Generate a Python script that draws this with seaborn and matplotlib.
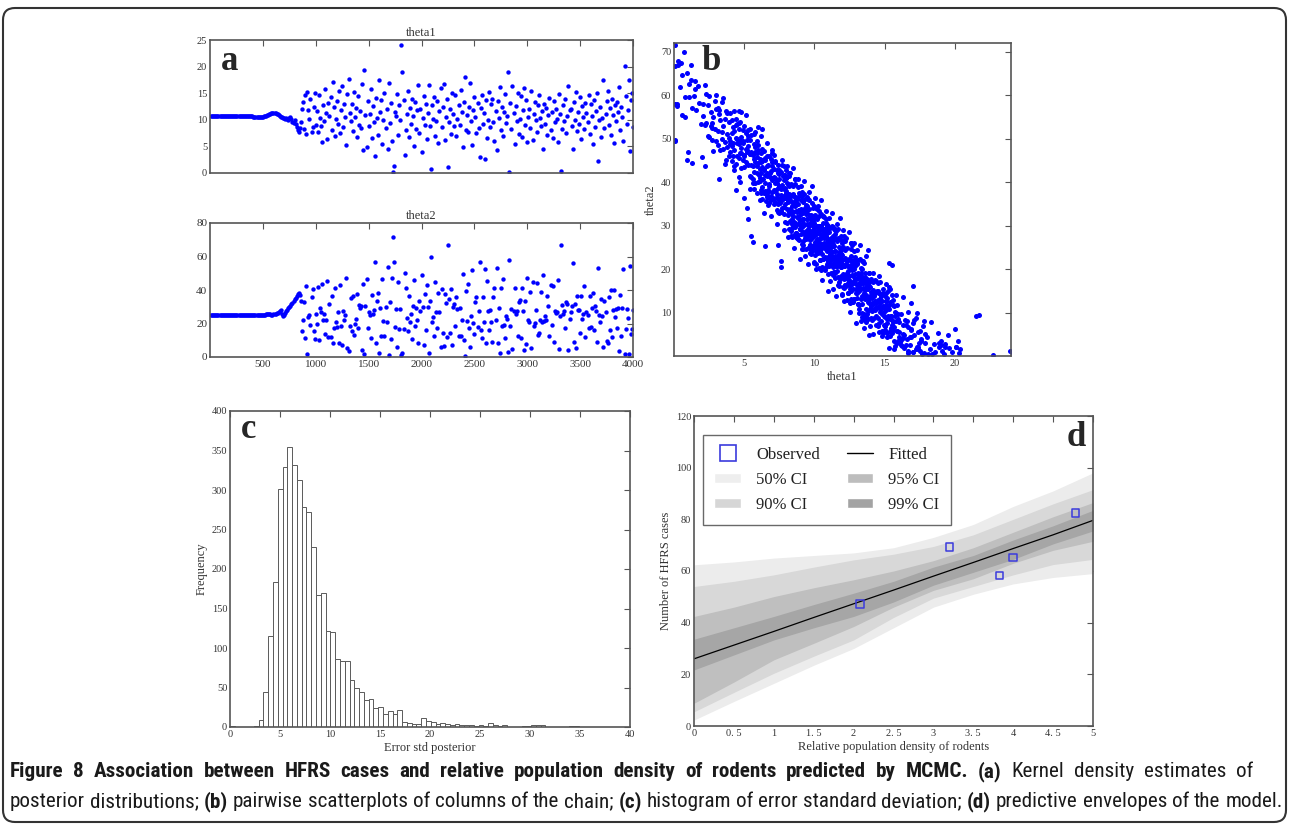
import numpy as np
import pandas as pd
import matplotlib
matplotlib.use("Agg")
import matplotlib.pyplot as plt
import seaborn as sns
from matplotlib import font_manager
from matplotlib.lines import Line2D
from matplotlib.patches import Patch, FancyBboxPatch
from matplotlib.transforms import IdentityTransform

# ---------------- data ----------------
# (a) MCMC trace, thinned to every 10th iteration
theta1_burnin = [10.8, 10.8, 10.8, 10.8, 10.8, 10.8, 10.8, 10.8, 10.8, 10.8,
                 10.7, 10.7, 10.7, 10.7, 10.7, 10.7, 10.7, 10.7, 10.7, 10.7,
                 10.7, 10.7, 10.7, 10.7, 10.7, 10.7, 10.7, 10.7, 10.7, 10.7,
                 10.7, 10.7, 10.7, 10.7, 10.7, 10.7, 10.7, 10.7, 10.7, 10.7,
                 10.6, 10.6, 10.6, 10.6, 10.6, 10.6, 10.6, 10.6, 10.6, 10.6,
                 10.7, 10.8, 10.8, 10.9, 10.9, 11.0, 11.1, 11.2, 11.3, 11.3,
                 11.2, 11.2, 11.1, 11.0, 10.9, 10.8, 10.6, 10.5, 10.4, 10.3,
                 10.2, 10.4, 10.1, 10.0, 10.3, 10.6, 10.2, 9.6, 9.4, 10.0,
                 9.2, 8.6, 8.0, 7.8, 8.4]
theta2_burnin = [25.1, 25.1, 25.1, 25.1, 25.1, 25.1, 25.1, 25.1, 25.1, 25.1,
                 25.0, 25.0, 25.0, 25.0, 25.0, 25.0, 25.0, 25.0, 25.0, 25.0,
                 25.0, 25.0, 25.0, 25.0, 25.0, 25.0, 25.0, 25.0, 25.0, 25.0,
                 25.0, 25.0, 25.0, 25.0, 25.0, 25.0, 25.0, 25.0, 25.0, 25.0,
                 25.0, 25.0, 25.0, 25.0, 25.0, 25.0, 25.0, 25.0, 25.0, 25.0,
                 25.2, 25.3, 25.4, 25.5, 25.4, 25.6, 25.5, 25.3, 25.2, 25.4,
                 25.6, 25.8, 26.0, 26.4, 26.8, 27.3, 27.8, 25.5, 24.2, 25.0,
                 26.0, 27.2, 28.0, 29.0, 29.8, 30.5, 31.5, 32.5, 33.6, 34.5,
                 35.5, 36.5, 37.5, 38.5, 37.0]
theta1_chain = [
    9.5, 12.1, 13.4, 8.3, 14.6, 7.4, 15.3, 11.8, 10.2, 13.9, 7.7, 8.6, 12.5, 15.0, 9.1,
    11.6, 7.8, 14.7, 10.4, 8.9, 5.9, 12.8, 9.7, 15.8, 11.2, 6.3, 13.1, 10.8, 14.2, 8.1,
    17.1, 12.4, 6.9, 10.1, 13.6, 9.3, 15.5, 7.5, 11.9, 16.3, 8.7, 12.9, 10.6, 5.2, 14.9,
    17.6, 11.3, 9.8, 13.0, 7.9, 15.2, 10.5, 12.2, 6.7, 14.4, 9.0, 11.7, 8.4, 16.8, 4.3,
    19.3, 10.9, 4.8, 13.5, 8.8, 11.0, 15.7, 6.6, 12.6, 9.6, 3.2, 14.1, 10.3, 7.1, 17.4,
    11.4, 13.8, 5.4, 10.0, 15.1, 8.5, 12.0, 4.6, 17.0, 9.4, 13.2, 6.0, 0.1, 1.3, 11.5,
    10.7, 14.8, 7.2, 12.7, 9.9, 24.1, 19.0, 13.7, 3.4, 8.0, 11.1, 15.4, 6.8, 12.3, 9.2,
    14.0, 10.8, 5.0, 13.3, 8.2, 11.8, 16.6, 7.6, 12.1, 4.0, 10.4, 14.5, 9.1, 13.0, 6.4,
    11.3, 16.5, 8.9, 0.8, 12.8, 10.1, 14.3, 7.0, 9.7, 13.6, 5.7, 11.6, 15.9, 8.6, 12.4,
    16.7, 6.2, 10.6, 13.9, 1.2, 9.5, 12.0, 7.3, 15.0, 11.0, 8.8, 14.6, 6.9, 10.2, 12.7,
    9.0, 15.6, 11.4, 4.9, 13.4, 18.1, 8.1, 10.9, 7.8, 12.5, 16.9, 9.8, 5.3, 11.9, 14.2,
    10.5, 7.5, 13.1, 8.4, 3.1, 12.2, 14.7, 9.3, 11.2, 2.7, 13.8, 6.5, 10.0, 15.3, 8.7,
    12.9, 14.0, 9.6, 6.1, 11.7, 4.4, 13.5, 10.3, 16.2, 8.0, 12.4, 7.0, 11.5, 14.9, 9.4,
    10.8, 18.9, 0.1, 13.2, 8.3, 16.4, 11.3, 5.5, 12.6, 9.7, 15.1, 7.4, 10.1, 14.4, 6.8,
    11.9, 16.0, 9.0, 13.7, 5.8, 10.6, 12.1, 8.5, 15.5, 6.2, 11.0, 13.3, 9.9, 7.7, 12.8,
    14.6, 10.4, 8.8, 11.6, 4.5, 13.0, 9.2, 12.3, 7.1, 10.9, 14.1, 8.0, 11.4, 6.6, 13.6,
    9.5, 12.0, 10.2, 5.9, 14.8, 11.1, 0.3, 8.3, 12.7, 9.8, 13.9, 7.5, 10.7, 16.3, 11.8,
    12.1, 8.9, 4.6, 13.4, 10.0, 15.2, 7.9, 11.5, 9.3, 14.3, 6.3, 12.6, 10.5, 8.2, 13.1,
    11.2, 9.6, 14.7, 7.3, 12.9, 10.8, 5.4, 13.8, 8.6, 11.7, 15.0, 2.2, 9.9, 12.4, 6.7,
    10.3, 17.5, 8.4, 11.0, 13.5, 15.4, 9.1, 12.2, 7.2, 14.0, 10.9, 5.6, 12.8, 9.7, 13.3,
    11.5, 16.2, 8.0, 12.5, 10.6, 6.0, 20.1, 14.5, 9.2, 11.9, 17.4, 4.1, 13.7, 15.1, 8.7]
theta2_chain = [
    33.4, 15.7, 21.9, 32.8, 11.5, 42.1, 1.9, 23.8, 24.8, 19.1, 36.0, 40.7, 15.3, 11.0, 25.8,
    19.6, 41.6, 10.1, 29.0, 26.6, 43.7, 22.1, 25.6, 14.0, 22.1, 45.2, 12.0, 31.5, 12.0, 36.5,
    8.2, 17.6, 41.0, 21.1, 18.2, 27.1, 8.2, 42.8, 18.5, 7.2, 27.3, 21.8, 25.3, 47.3, 5.4,
    3.4, 18.7, 35.2, 15.4, 36.3, 13.3, 19.7, 22.4, 37.7, 17.2, 31.2, 29.2, 30.4, 4.3, 43.6,
    2.0, 30.2, 46.7, 17.6, 26.9, 24.8, 11.4, 37.1, 25.9, 28.0, 56.7, 8.3, 33.4, 38.2, 2.1,
    29.3, 12.4, 46.5, 21.5, 12.6, 30.1, 21.1, 53.5, 1.0, 32.7, 10.7, 47.3, 71.5, 57.0, 18.0,
    28.9, 5.7, 44.9, 16.5, 28.9, 1.0, 2.5, 16.8, 49.9, 40.9, 23.4, 15.5, 36.3, 21.0, 25.5,
    10.7, 30.5, 46.0, 18.3, 29.2, 21.8, 8.1, 33.4, 27.7, 48.7, 30.0, 6.9, 37.8, 16.4, 42.8,
    29.7, 2.5, 33.6, 59.5, 21.1, 24.1, 12.6, 44.6, 26.6, 17.2, 38.4, 26.6, 5.7, 40.7, 14.6,
    6.7, 37.6, 32.3, 12.1, 67.0, 34.4, 14.1, 40.5, 7.0, 29.8, 31.9, 18.5, 36.0, 28.8, 12.5,
    29.2, 12.8, 22.3, 49.4, 9.9, 0.5, 39.5, 21.2, 43.6, 17.3, 6.0, 24.2, 51.9, 20.5, 14.0,
    32.7, 35.8, 18.0, 27.4, 57.0, 16.4, 11.1, 36.1, 21.1, 52.5, 8.4, 45.5, 27.5, 15.9, 28.3,
    20.8, 8.7, 36.0, 40.9, 22.2, 53.2, 8.6, 29.4, 2.6, 40.9, 18.6, 46.6, 19.0, 11.4, 24.7,
    22.5, 3.0, 58.0, 18.7, 28.8, 4.8, 27.7, 41.2, 25.9, 27.6, 12.6, 33.1, 34.1, 11.2, 41.3,
    27.5, 4.3, 33.2, 7.8, 47.0, 22.3, 20.7, 39.1, 5.2, 44.6, 18.8, 20.3, 27.9, 44.0, 13.1,
    14.5, 22.0, 38.9, 20.6, 48.9, 21.4, 24.5, 22.0, 36.2, 30.2, 12.3, 42.9, 19.3, 42.1, 9.2,
    27.4, 26.1, 26.8, 45.7, 4.7, 24.4, 67.0, 30.8, 25.5, 27.2, 17.1, 32.8, 31.9, 4.2, 22.8,
    26.7, 30.6, 56.3, 8.9, 31.5, 5.3, 36.3, 28.0, 28.1, 14.6, 36.2, 22.9, 25.7, 42.2, 12.0,
    27.1, 25.0, 17.1, 36.5, 17.8, 29.5, 38.5, 16.4, 30.7, 27.2, 9.0, 53.2, 24.9, 20.6, 34.7,
    24.4, 5.8, 33.4, 26.8, 9.6, 8.5, 35.8, 16.4, 39.9, 11.7, 28.2, 39.8, 24.1, 28.6, 17.3,
    29.0, 3.6, 36.9, 12.3, 29.3, 52.6, 2.0, 16.9, 28.5, 23.5, 1.5, 54.3, 13.8, 16.6, 28.3]

# (b) further (theta1, theta2) draws of the full chain, by region of the cloud
b_upper_left = """
0.1,66.8 0.2,58.0 0.1,49.6 0.4,61.8 0.5,67.5 0.6,64.6 0.7,70.0 0.8,55.0 0.9,65.0 1.0,47.0
1.1,59.5 1.2,63.5 1.3,44.5 1.4,59.8 1.5,61.5 1.6,56.7 1.7,62.0 1.8,58.3 1.9,53.4 0.3,67.8
0.9,45.0 1.5,63.3 1.1,62.5 0.6,55.5 0.0,72.0 0.05,49.5 0.2,57.5
2.0,45.8 2.1,55.2 2.2,62.3 2.3,53.6 2.4,57.8 2.5,50.4 2.6,56.1 2.7,49.8 2.8,54.9 2.9,52.3
3.0,60.1 3.1,51.7 3.2,55.6 3.3,47.5 3.4,58.4 3.5,53.0 3.6,49.2 3.7,56.3 3.8,51.1 3.9,46.0
2.2,43.6 2.6,52.9 2.9,58.6 3.1,48.5 3.3,54.2 3.5,59.3 3.7,45.1 3.9,53.8 2.4,50.7 2.8,47.2
3.0,56.8 3.2,40.7 3.4,51.5 3.6,54.5 3.8,48.0 2.1,57.9 2.5,59.9 2.7,53.5 3.0,49.4 3.5,47.6
3.9,50.2 3.6,44.2 2.3,60.2 3.8,55.9
4.0,49.5 4.1,44.8 4.2,52.6 4.3,47.3 4.4,50.1 4.5,45.9 4.6,48.7 4.7,53.9 4.8,43.2 4.9,49.0
5.0,46.3 5.1,51.2 5.2,44.1 5.3,48.2 5.4,41.5 5.5,47.0 5.6,43.6 5.7,45.4 5.8,39.8 5.9,46.8
4.0,55.8 4.1,48.3 4.2,46.0 4.3,51.8 4.4,44.2 4.5,49.9 4.6,52.3 4.7,46.6 4.8,50.4 4.9,45.0
5.0,52.8 5.1,47.7 5.2,49.6 5.3,43.9 5.4,46.5 5.5,50.9 5.6,40.8 5.7,48.8 5.8,44.7 5.9,42.0
4.1,51.4 4.3,42.8 4.5,53.3 4.7,49.4 4.9,52.1 5.1,44.6 5.3,50.7 5.5,44.0 5.7,42.4 5.9,49.5
4.2,49.0 4.4,54.5 4.6,45.5 4.8,47.8 5.0,43.4 5.2,46.9 5.4,49.8 5.6,46.2 5.8,48.1 4.0,46.9
4.4,38.3 4.6,41.1 5.0,36.4 5.3,31.4 5.5,27.7 5.6,26.3 5.2,34.0 4.8,56.2 5.1,55.5 5.4,52.2
5.8,51.6 4.3,56.3 4.7,40.0 5.9,37.5 5.7,51.0
"""
b_core_6_8 = """
6.0,44.5 6.1,40.2 6.2,46.8 6.3,38.9 6.4,43.1 6.5,41.7 6.6,36.6 6.7,44.0 6.8,39.1 6.9,42.5
7.0,37.8 7.1,41.2 7.2,35.5 7.3,39.7 7.4,43.9 7.5,36.2 7.6,38.5 7.7,34.1 7.8,40.4 7.9,35.0
6.0,40.0 6.1,45.3 6.2,42.1 6.3,47.6 6.4,37.4 6.5,45.2 6.6,41.3 6.7,38.2 6.8,46.1 6.9,36.8
7.0,43.7 7.1,38.0 7.2,40.9 7.3,33.6 7.4,38.6 7.5,41.8 7.6,33.2 7.7,39.3 7.8,36.9 7.9,38.7
6.0,48.6 6.2,38.3 6.4,47.2 6.6,43.8 6.8,35.3 7.0,41.0 7.2,44.6 7.4,34.9 7.6,42.3 7.8,32.7
6.1,36.0 6.3,43.5 6.5,38.0 6.7,41.9 6.9,45.4 7.1,35.0 7.3,42.8 7.5,39.0 7.7,36.5 7.9,41.6
6.05,41.6 6.25,44.9 6.45,39.8 6.65,46.0 6.85,42.0 7.05,36.3 7.25,38.2 7.45,40.7 7.65,37.0 7.85,34.3
6.15,43.0 6.35,40.8 6.55,35.7 6.75,39.5 6.95,40.6 7.15,43.0 7.35,37.2 7.55,35.1 7.75,41.4 7.95,37.9
6.4,33.0 6.9,32.2 7.3,30.4 6.2,50.6 6.6,48.9 7.0,47.5 7.7,45.0 7.9,30.8 6.5,25.2 7.4,25.6
7.8,29.0 6.3,52.3 7.6,20.5 7.6,21.8 7.1,46.2
"""
b_core_8_10 = """
8.0,36.9 8.1,32.5 8.2,39.2 8.3,32.8 8.4,34.4 8.5,37.1 8.6,29.7 8.7,35.3 8.8,31.9 8.9,37.6
9.0,29.2 9.1,32.8 9.2,26.5 9.3,33.1 9.4,34.7 9.5,28.4 9.6,30.0 9.7,25.6 9.8,32.2 9.9,27.9
8.05,33.7 8.15,37.3 8.25,31.0 8.35,39.6 8.45,33.2 8.55,30.9 8.65,34.5 8.75,36.1 8.85,27.8 8.95,32.4
9.05,36.0 9.15,29.7 9.25,33.3 9.35,27.9 9.45,31.5 9.55,36.2 9.65,28.8 9.75,32.4 9.85,25.1 9.95,30.7
8.02,39.8 8.12,35.5 8.22,33.1 8.32,36.7 8.42,29.4 8.52,35.0 8.62,36.6 8.72,30.2 8.82,34.9 8.92,31.5
9.02,28.1 9.12,36.8 9.22,31.4 9.32,34.0 9.42,28.7 9.52,29.3 9.62,33.9 9.72,24.5 9.82,30.2 9.92,31.8
8.07,30.6 8.17,41.3 8.27,35.9 8.37,31.5 8.47,37.2 8.57,27.8 8.67,35.4 8.77,33.1 8.87,36.7 8.97,29.3
9.07,33.9 9.17,30.6 9.27,37.2 9.37,26.8 9.47,31.5 9.57,28.1 9.67,23.7 9.77,31.4 9.87,34.0 9.97,25.6
8.04,43.8 8.14,27.4 8.24,42.0 8.34,27.6 8.44,43.3 8.54,24.9 8.64,39.5 8.74,27.2 8.84,40.8 8.94,22.4
9.04,39.1 9.14,24.7 9.24,40.3 9.34,22.9 9.44,36.6 9.54,21.2 9.64,37.8 9.74,23.5 9.84,39.1 9.94,21.7
8.09,35.6 8.19,37.2 8.29,33.8 8.39,35.5 8.49,32.1 8.59,35.7 8.69,33.4 8.79,32.0 8.89,33.6 8.99,30.2
9.09,32.9 9.19,31.5 9.29,30.1 9.39,32.8 9.49,30.4 9.59,28.0 9.69,30.7 9.79,28.3 9.89,30.9 9.99,28.5
"""
b_core_10_12 = """
10.0,29.5 10.1,25.1 10.2,31.8 10.3,25.4 10.4,27.0 10.5,29.7 10.6,22.3 10.7,27.9 10.8,24.5 10.9,30.2
11.0,21.8 11.1,25.4 11.2,19.1 11.3,25.7 11.4,27.3 11.5,21.0 11.6,22.6 11.7,18.2 11.8,24.8 11.9,20.5
10.05,26.3 10.15,29.9 10.25,23.6 10.35,32.2 10.45,25.8 10.55,23.5 10.65,27.1 10.75,28.7 10.85,20.4 10.95,25.0
11.05,28.6 11.15,22.3 11.25,25.9 11.35,20.5 11.45,24.1 11.55,28.8 11.65,21.4 11.75,25.0 11.85,17.7 11.95,23.3
10.02,32.4 10.12,28.1 10.22,25.7 10.32,29.3 10.42,22.0 10.52,27.6 10.62,29.2 10.72,22.8 10.82,27.5 10.92,24.1
11.02,20.7 11.12,29.4 11.22,24.0 11.32,26.6 11.42,21.3 11.52,21.9 11.62,26.5 11.72,17.1 11.82,22.8 11.92,24.4
10.07,23.2 10.17,33.9 10.27,28.5 10.37,24.1 10.47,29.8 10.57,20.4 10.67,28.0 10.77,25.7 10.87,29.3 10.97,21.9
11.07,26.5 11.17,23.2 11.27,29.8 11.37,19.4 11.47,24.1 11.57,20.7 11.67,16.3 11.77,24.0 11.87,26.6 11.97,18.2
10.04,36.4 10.14,20.0 10.24,34.6 10.34,20.2 10.44,35.9 10.54,17.5 10.64,32.1 10.74,19.8 10.84,33.4 10.94,15.0
11.04,31.7 11.14,17.3 11.24,32.9 11.34,15.5 11.44,29.2 11.54,13.8 11.64,30.4 11.74,16.1 11.84,31.7 11.94,14.3
10.09,28.2 10.19,29.8 10.29,26.4 10.39,28.1 10.49,24.7 10.59,28.3 10.69,26.0 10.79,24.6 10.89,26.2 10.99,22.8
11.09,25.5 11.19,24.1 11.29,22.7 11.39,25.4 11.49,23.0 11.59,20.6 11.69,23.3 11.79,20.9 11.89,23.5 11.99,21.1
"""
b_core_12_14 = """
12.0,22.1 12.1,17.7 12.2,24.4 12.3,18.0 12.4,19.6 12.5,22.3 12.6,14.9 12.7,20.5 12.8,17.1 12.9,22.8
13.0,14.4 13.1,18.0 13.2,11.7 13.3,18.3 13.4,19.9 13.5,13.6 13.6,15.2 13.7,10.8 13.8,17.4 13.9,13.1
12.05,18.9 12.15,22.6 12.25,16.2 12.35,24.8 12.45,18.4 12.55,16.1 12.65,19.7 12.75,21.3 12.85,13.0 12.95,17.6
13.05,21.2 13.15,14.9 13.25,18.5 13.35,13.1 13.45,16.7 13.55,21.4 13.65,14.0 13.75,17.6 13.85,10.3 13.95,15.9
12.02,25.0 12.12,20.7 12.22,18.3 12.32,21.9 12.42,14.6 12.52,20.2 12.62,21.8 12.72,15.4 12.82,20.1 12.92,16.7
13.02,13.3 13.12,22.0 13.22,16.6 13.32,19.2 13.42,13.9 13.52,14.5 13.62,19.1 13.72,9.7 13.82,15.4 13.92,17.0
12.07,15.8 12.17,26.5 12.27,21.1 12.37,16.7 12.47,22.4 12.57,13.0 12.67,20.6 12.77,18.3 12.87,21.9 12.97,14.5
13.07,19.1 13.17,15.8 13.27,22.4 13.37,12.0 13.47,16.7 13.57,13.3 13.67,8.9 13.77,16.6 13.87,19.2 13.97,10.8
12.04,29.0 12.14,12.6 12.24,27.2 12.34,12.8 12.44,28.5 12.54,10.1 12.64,24.7 12.74,12.4 12.84,26.0 12.94,7.6
13.04,24.3 13.14,9.9 13.24,25.5 13.34,8.1 13.44,21.8 13.54,6.4 13.64,23.0 13.74,8.7 13.84,24.3 13.94,6.9
12.09,20.8 12.19,22.4 12.29,19.0 12.39,20.7 12.49,17.3 12.59,20.9 12.69,18.6 12.79,17.2 12.89,18.8 12.99,15.4
13.09,18.1 13.19,16.7 13.29,15.3 13.39,18.0 13.49,15.6 13.59,13.2 13.69,15.9 13.79,13.5 13.89,16.1 13.99,13.7
"""
b_lower_right = """
14.0,14.7 14.1,10.3 14.2,17.0 14.3,10.6 14.4,12.2 14.5,14.9 14.6,7.5 14.7,13.1 14.8,9.7 14.9,15.4
15.0,7.0 15.1,10.6 15.2,4.3 15.3,10.9 15.4,12.5 15.5,6.2 15.6,7.8 15.7,3.4 15.8,10.0 15.9,5.7
14.05,11.5 14.15,15.2 14.25,8.8 14.35,17.4 14.45,11.0 14.55,8.7 14.65,12.3 14.75,13.9 14.85,5.6 14.95,10.2
15.05,13.8 15.15,7.5 15.25,11.1 15.35,5.7 15.45,9.3 15.55,14.0 15.65,6.6 15.75,10.2 15.85,2.9 15.95,8.5
14.02,17.6 14.12,13.3 14.22,10.9 14.32,14.5 14.42,7.2 14.52,12.8 14.62,14.4 14.72,8.0 14.82,12.7 14.92,9.3
15.02,5.9 15.12,14.6 15.22,9.2 15.32,11.8 15.42,6.5 15.52,7.1 15.62,11.7 15.72,2.3 15.82,8.0 15.92,9.6
14.07,8.4 14.17,19.1 14.27,13.7 14.37,9.3 14.47,15.0 14.57,5.6 14.67,13.2 14.77,10.9 14.87,14.5 14.97,7.1
15.07,11.7 15.17,8.4 15.27,15.0 15.37,4.6 15.47,9.3 15.57,5.9 15.67,1.5 15.77,9.2 15.87,11.8 15.97,3.4
15.5,21.0 15.3,21.5 14.2,5.0 13.9,4.8
16.0,7.8 16.1,3.2 16.2,9.6 16.3,5.0 16.4,1.8 16.5,7.1 16.6,4.0 16.7,10.2 16.8,2.5 16.9,6.3
17.0,0.9 17.1,4.8 17.2,8.7 17.3,2.0 17.4,5.6 17.5,1.2 17.6,3.8 17.7,6.9 17.8,0.6 17.9,2.9
16.05,5.5 16.25,2.4 16.45,8.3 16.65,0.8 16.85,4.4 17.05,7.5 17.25,1.5 17.45,3.1 17.65,0.4 17.85,5.0
16.9,12.1 17.05,16.0 16.3,13.5 16.7,1.1 17.3,10.0 17.8,8.0
18.0,4.3 18.2,1.6 18.3,7.9 18.5,2.7 18.6,0.9 18.8,5.2 19.0,3.4 19.1,1.2 19.3,2.8 19.5,4.9
19.6,1.8 19.8,1.0 20.0,6.3 20.1,2.0 20.2,3.5 20.4,1.7 18.4,0.5 19.2,0.4 20.3,0.6 18.9,2.1
21.5,9.3 21.7,9.5 22.7,0.3 23.9,1.1
"""

# (c) histogram of the error std posterior (bin width about 0.478)
c_bin_width = 0.478
c_counts = [1, 0, 0, 0, 0, 1, 9, 44, 115, 183, 301, 329, 355, 332, 313, 279, 272, 228,
            167, 169, 121, 120, 86, 83, 83, 60, 49, 44, 34, 35, 24, 25, 17, 20, 16, 22,
            6, 5, 4, 4, 12, 7, 6, 4, 5, 4, 3, 4, 3, 2, 2, 1, 2, 1, 5, 2, 1, 3, 0, 0, 0,
            1, 1, 2, 2, 3, 0, 0, 0, 0, 0, 1, 1]

# (d) predictive envelopes
d_density = [0, 0.5, 1, 1.5, 2, 2.5, 3, 3.5, 4, 4.5, 5]
d_fitted = [26.0, 31.3, 36.6, 42.0, 47.3, 52.6, 58.0, 63.3, 68.7, 74.0, 79.6]
ci50_lo = [2.3, 9.5, 16.5, 23.5, 30.0, 38.0, 46.0, 51.0, 55.0, 57.5, 59.0]
ci50_hi = [62.4, 63.5, 65.0, 66.0, 67.0, 69.0, 73.0, 78.0, 85.0, 91.0, 98.0]
ci90_lo = [5.5, 13.0, 20.4, 27.0, 33.3, 42.0, 49.5, 54.0, 58.5, 62.5, 64.5]
ci90_hi = [54.0, 56.0, 58.5, 61.5, 64.3, 66.5, 69.5, 74.0, 80.0, 86.0, 91.5]
ci95_lo = [8.8, 17.0, 25.6, 32.0, 38.5, 46.0, 52.5, 57.0, 63.0, 68.0, 71.5]
ci95_hi = [42.4, 46.0, 50.1, 53.5, 56.6, 60.0, 64.0, 69.0, 75.0, 81.0, 86.5]
ci99_lo = [21.7, 27.5, 33.3, 38.0, 42.4, 48.0, 54.5, 59.5, 64.5, 70.5, 75.5]
ci99_hi = [33.6, 38.0, 42.4, 47.0, 51.4, 56.0, 61.5, 66.0, 72.0, 77.5, 83.5]
obs_density = [2.08, 3.20, 3.83, 4.00, 4.78]
obs_cases = [47.2, 69.3, 58.3, 65.2, 82.4]
d_xticklabels = ["0", "0. 5", "1", "1. 5", "2", "2. 5", "3", "3. 5", "4", "4. 5", "5"]

caption_1 = [("Figure 8 Association between HFRS cases and relative population density of "
              "rodents predicted by MCMC. (a)", True), ("Kernel density estimates of", False)]
caption_2 = [("posterior distributions;", False), ("(b)", True),
             ("pairwise scatterplots of columns of the chain;", False), ("(c)", True),
             ("histogram of error standard deviation;", False), ("(d)", True),
             ("predictive envelopes of the model.", False)]


def pairs(s):
    arr = np.array([p.split(",") for p in s.split()], dtype=float)
    return arr[:, 0], arr[:, 1]


# ---------------- figure ----------------
sns.set_style("white")
plt.rcParams["font.family"] = ["Liberation Serif", "DejaVu Serif"]

W, H = 1290, 827
fig = plt.figure(figsize=(W / 100, H / 100), dpi=100)
BLUE = "#0000ff"
TXT = "#333333"


def px_axes(left, top, right, bottom):
    return fig.add_axes([left / W, 1 - bottom / H, (right - left) / W, (bottom - top) / H])


def style(ax, size=7.5):
    ax.tick_params(direction="in", top=True, right=True, length=4, width=0.8,
                   color="#555555", labelcolor=TXT, labelsize=size, pad=2)
    for sp in ax.spines.values():
        sp.set_color("#555555")
        sp.set_linewidth(1.2)


def letter(x, y, s, ha="left"):
    fig.text(x / W, 1 - y / H, s, fontsize=25, fontweight="bold", ha=ha, va="baseline",
             family=["Liberation Serif"])


theta1 = np.array(theta1_burnin + theta1_chain)
theta2 = np.array(theta2_burnin + theta2_chain)
iteration = np.arange(10, 10 * len(theta1) + 1, 10)

# (a) traces
ax1 = px_axes(210, 40, 633, 173)
sns.scatterplot(x=iteration, y=theta1, ax=ax1, s=10, color=BLUE, linewidth=0)
ax1.set(xlim=(0, 4000), ylim=(0, 25), xticks=range(500, 4001, 500),
        yticks=range(0, 26, 5), xlabel="", ylabel="")
style(ax1)
ax1.tick_params(labelbottom=False)
ax1.set_title("theta1", fontsize=9, color=TXT, pad=3)

ax2 = px_axes(210, 223, 633, 357)
sns.scatterplot(x=iteration, y=theta2, ax=ax2, s=10, color=BLUE, linewidth=0)
ax2.set(xlim=(0, 4000), ylim=(0, 80), xticks=range(500, 4001, 500),
        yticks=range(0, 81, 20), xlabel="", ylabel="")
style(ax2, 8)
ax2.set_title("theta2", fontsize=9, color=TXT, pad=3)
letter(221, 70, "a")

# (b) pairwise scatter
extra = [pairs(s) for s in (b_upper_left, b_core_6_8, b_core_8_10, b_core_10_12,
                            b_core_12_14, b_lower_right)]
b_t1 = np.concatenate([theta1] + [e[0] for e in extra])
b_t2 = np.concatenate([theta2] + [e[1] for e in extra])
axb = px_axes(674, 43, 1011, 356)
sns.scatterplot(x=b_t1, y=b_t2, ax=axb, s=13, color=BLUE, linewidth=0)
axb.set(xlim=(0, 24), ylim=(0, 72), xticks=[5, 10, 15, 20], yticks=range(10, 71, 10))
style(axb)
axb.set_xlabel("theta1", fontsize=9, color=TXT, labelpad=2)
axb.set_ylabel("theta2", fontsize=9, color=TXT, labelpad=3)
letter(701, 70, "b")

# (c) histogram
edges = [i * c_bin_width for i in range(len(c_counts) + 1)]
hist_df = pd.DataFrame({"sd": [e + c_bin_width / 2 for e in edges[:-1]], "n": c_counts})
axc = px_axes(230, 411, 630, 727)
sns.histplot(data=hist_df, x="sd", weights="n", bins=edges, ax=axc, color="white",
             edgecolor="#5a5a5a", linewidth=0.7, alpha=1)
axc.set(xlim=(0, 40), ylim=(0, 400), xticks=range(0, 41, 5), yticks=range(0, 401, 50))
style(axc)
axc.set_xlabel("Error std posterior", fontsize=9, color=TXT, labelpad=2)
axc.set_ylabel("Frequency", fontsize=9, color=TXT, labelpad=3)
letter(241, 438, "c")

# (d) predictive envelopes
axd = px_axes(694, 416, 1093, 726)
bands = [(ci50_lo, ci50_hi, "#ececec"), (ci90_lo, ci90_hi, "#d8d8d8"),
         (ci95_lo, ci95_hi, "#bfbfbf"), (ci99_lo, ci99_hi, "#a6a6a6")]
for lo, hi, col in bands:
    axd.fill_between(d_density, lo, hi, color=col, linewidth=0)
sns.lineplot(x=d_density, y=d_fitted, ax=axd, color="black", linewidth=0.9)
sns.scatterplot(x=obs_density, y=obs_cases, ax=axd, marker="s", s=30,
                facecolor="none", edgecolor="#3b3bdd", linewidth=1.1, zorder=5)
axd.set(xlim=(0, 5), ylim=(0, 120), yticks=range(0, 121, 20))
axd.set_xticks(d_density)
axd.set_xticklabels(d_xticklabels)
style(axd)
axd.set_xlabel("Relative population density of rodents", fontsize=9, color=TXT, labelpad=2)
axd.set_ylabel("Number of HFRS cases", fontsize=9, color=TXT, labelpad=3)

handles = [Line2D([], [], marker="s", ls="none", mfc="none", mec="#3b3bdd", ms=11, mew=1.2),
           Patch(fc="#eeeeee"), Patch(fc="#d6d6d6"),
           Line2D([], [], color="black", lw=1),
           Patch(fc="#bdbdbd"), Patch(fc="#a3a3a3")]
labels = ["Observed", "50% CI", "90% CI", "Fitted", "95% CI", "99% CI"]
leg = axd.legend(handles, labels, ncol=2, loc="upper left", bbox_to_anchor=(0.022, 0.939),
                 frameon=True, fancybox=False, edgecolor="#444444", fontsize=12,
                 handlelength=1.6, handleheight=0.6, handletextpad=0.9, columnspacing=1.6,
                 labelspacing=0.55, borderpad=0.7, borderaxespad=0)
leg.get_frame().set_linewidth(1.0)
for t in leg.get_texts():
    t.set_color("#222222")
letter(1086, 446, "d", ha="right")

# page frame
frame = FancyBboxPatch((3, 5), 1283, 814, boxstyle="round,pad=0,rounding_size=12",
                       transform=IdentityTransform(), fill=False, ec="#333333", lw=1.5)
fig.add_artist(frame)

# caption with mixed bold / regular runs
names = {f.name for f in font_manager.fontManager.ttflist}
cap_font = next((n for n in ["Liberation Sans Narrow", "Roboto Condensed", "Open Sans Condensed",
                             "Open Sans", "DejaVu Sans"] if n in names), "DejaVu Sans")
renderer = fig.canvas.get_renderer()


def caption_line(y, runs, fs, draw=True, target=None):
    probe = [fig.text(0, 0, s, fontsize=fs, family=cap_font) for s in ("a a", "aa")]
    sp = probe[0].get_window_extent(renderer).width - probe[1].get_window_extent(renderer).width
    for p in probe:
        p.remove()
    words = [(w, bold) for text, bold in runs for w in text.split()]
    texts, widths = [], []
    for w, bold in words:
        t = fig.text(0, 1 - y / H, w, fontsize=fs, family=cap_font,
                     fontweight="bold" if bold else "normal", va="baseline", color="#1a1a1a")
        texts.append(t)
        widths.append(t.get_window_extent(renderer).width)
    natural = sum(widths) + sp * (len(words) - 1)
    gap = sp
    if target is not None and natural < target:
        gap = sp + (target - natural) / (len(words) - 1)
    x = 10.0
    for t, w in zip(texts, widths):
        if draw:
            t.set_x(x / W)
        else:
            t.remove()
        x += w + gap
    return natural


cap_fs = 12 * 1270 / caption_line(807, caption_2, 12, draw=False)
caption_line(777, caption_1, cap_fs, target=1243)
caption_line(807, caption_2, cap_fs)

fig.savefig("out.png", dpi=100)
